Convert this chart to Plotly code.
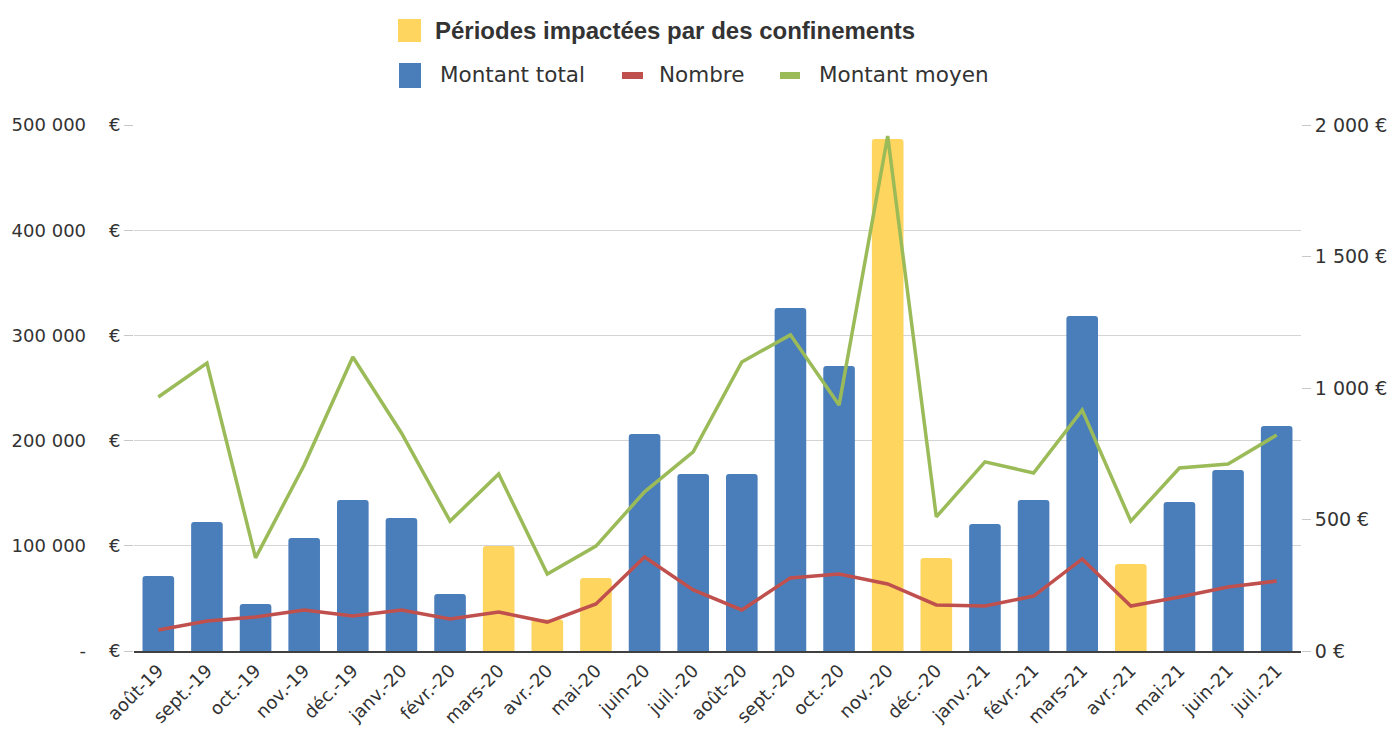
import plotly.graph_objects as go

months = ["août-19", "sept.-19", "oct.-19", "nov.-19", "déc.-19", "janv.-20", "févr.-20",
          "mars-20", "avr.-20", "mai-20", "juin-20", "juil.-20", "août-20", "sept.-20",
          "oct.-20", "nov.-20", "déc.-20", "janv.-21", "févr.-21", "mars-21", "avr.-21",
          "mai-21", "juin-21", "juil.-21"]

montant_total = [71300, 122600, 44700, 107400, 143500, 126400, 54200,
                 99800, 30000, 69400, 206300, 168300, 168300, 326000,
                 270900, 486700, 88400, 120700, 143500, 318400, 82700,
                 141600, 172000, 213900]

nombre = [80, 114, 129, 156, 133, 156, 122,
          148, 110, 179, 357, 232, 156, 278,
          293, 255, 175, 171, 209, 350, 171,
          205, 243, 266]

montant_moyen = [966, 1095, 354, 707, 1118, 829, 494,
                 673, 293, 399, 605, 757, 1099, 1202,
                 935, 1958, 510, 719, 677, 916, 494,
                 696, 711, 821]

confinement = ["mars-20", "avr.-20", "mai-20", "nov.-20", "déc.-20", "avr.-21"]

left_ticks = [0, 100000, 200000, 300000, 400000, 500000]
left_labels = ["-    €", "100 000    €", "200 000    €", "300 000    €", "400 000    €", "500 000    €"]
right_ticks = [0, 500, 1000, 1500, 2000]
right_labels = ["0 €", "500 €", "1 000 €", "1 500 €", "2 000 €"]

BLUE = "#4a7ebb"
YELLOW = "#fdd55f"
RED = "#c0504d"
GREEN = "#9bbb59"
TXT = "#333333"

bar_colors = [YELLOW if m in confinement else BLUE for m in months]

fig = go.Figure()
fig.add_trace(go.Bar(x=months, y=montant_total, name="Montant total",
                     marker=dict(color=bar_colors, line=dict(width=0)),
                     yaxis="y", showlegend=False))
fig.add_trace(go.Scatter(x=months, y=nombre, name="Nombre", mode="lines",
                         line=dict(color=RED, width=3.5), yaxis="y2", showlegend=False))
fig.add_trace(go.Scatter(x=months, y=montant_moyen, name="Montant moyen", mode="lines",
                         line=dict(color=GREEN, width=3.5), yaxis="y2", showlegend=False))

font_fam = "DejaVu Sans"
L, R, T, B = 126, 97, 117, 83
W, H = 1390, 726
PW = W - L - R
PH = H - T - B
OFF = 8  # page body offset


def px(xp):
    return (xp - OFF - L) / PW


def py(yp):
    return (H - B + OFF - yp) / PH


fig.update_layout(
    width=W, height=H,
    margin=dict(l=L, r=R, t=T, b=B),
    plot_bgcolor="white", paper_bgcolor="white",
    bargap=0.35,
    barcornerradius=3,
    font=dict(family=font_fam, size=18, color=TXT),
    showlegend=False,
    xaxis=dict(type="category", tickangle=-45, showgrid=False, automargin=False,
               showline=True, linecolor="#404040", linewidth=2,
               ticks="", tickfont=dict(size=18, color=TXT)),
    yaxis=dict(range=[0, 500000], tickvals=left_ticks, ticktext=left_labels,
               showgrid=True, gridcolor="#d4d4d4", gridwidth=1, automargin=False,
               ticks="outside", ticklen=9, tickcolor="#c8c8c8",
               zeroline=False, showline=False,
               tickfont=dict(size=18, color=TXT)),
    yaxis2=dict(range=[0, 2000], tickvals=right_ticks, ticktext=right_labels,
                overlaying="y", side="right", showgrid=False, automargin=False,
                ticks="outside", ticklen=9, tickcolor="#c8c8c8",
                zeroline=False, showline=False,
                tickfont=dict(size=19, color=TXT)),
)

# Legend: lockdown periods
fig.add_shape(type="rect", xref="paper", yref="paper",
              x0=px(398), x1=px(421), y0=py(42), y1=py(19),
              fillcolor=YELLOW, line=dict(width=0))
fig.add_annotation(xref="paper", yref="paper", x=px(433), y=py(30),
                   xanchor="left", yanchor="middle", showarrow=False,
                   text="<b>Périodes impactées par des confinements</b>",
                   font=dict(family="Liberation Sans", size=24, color=TXT))

# Legend: series
legend_items = [
    ("Montant total", BLUE, "rect", 399, 421, 438),
    ("Nombre", RED, "dash", 622, 643, 657),
    ("Montant moyen", GREEN, "dash", 780, 800, 817),
]
for label, col, kind, x0, x1, xt in legend_items:
    if kind == "rect":
        y0, y1 = 88, 63
    else:
        y0, y1 = 79, 72
    fig.add_shape(type="rect", xref="paper", yref="paper",
                  x0=px(x0), x1=px(x1), y0=py(y0), y1=py(y1),
                  fillcolor=col, line=dict(width=0))
    fig.add_annotation(xref="paper", yref="paper", x=px(xt), y=py(75),
                       xanchor="left", yanchor="middle", showarrow=False,
                       text=label, font=dict(family=font_fam, size=21.5, color=TXT))

fig.write_html("out.html")
